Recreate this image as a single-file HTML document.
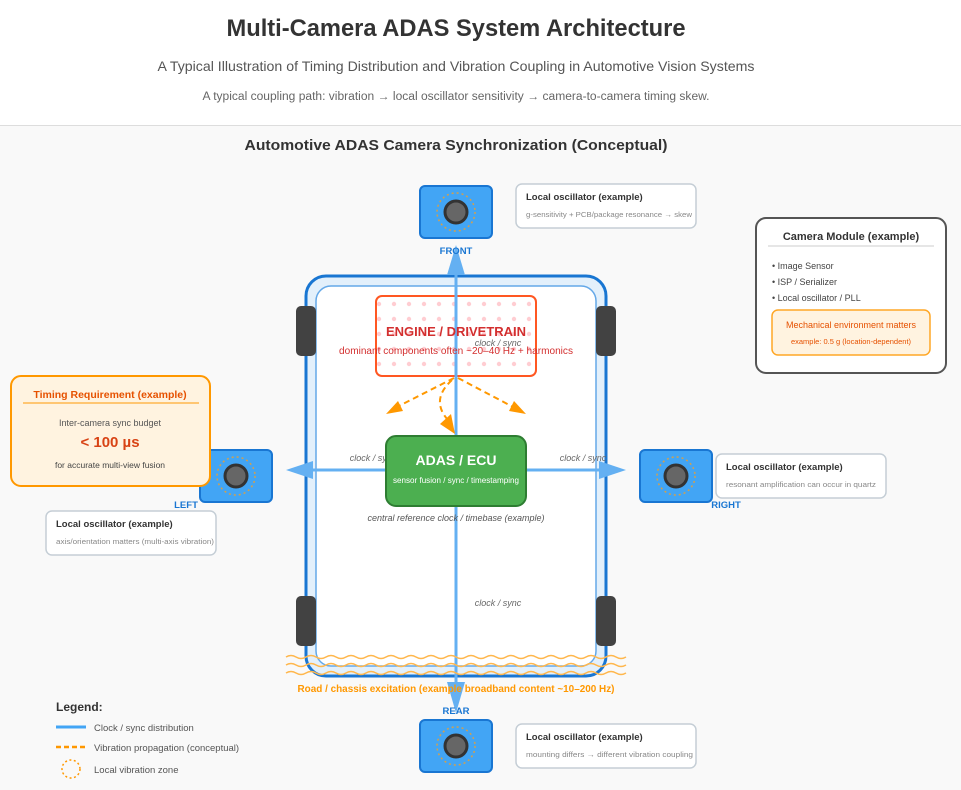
<!DOCTYPE html>
<html><head><meta charset="utf-8"><style>
html,body{margin:0;padding:0;background:#fff;}
svg{display:block;font-family:"Liberation Sans",sans-serif;}
</style></head><body>
<svg width="961" height="790" viewBox="0 0 961 790" xmlns="http://www.w3.org/2000/svg">
<defs>
<pattern id="dots" width="15" height="15" patternUnits="userSpaceOnUse"><circle cx="4" cy="4" r="2.2" fill="#ffcdd2"/></pattern>
</defs>
<rect x="0" y="0" width="961" height="125" fill="#fff"/>
<rect x="0" y="125" width="961" height="665" fill="#f9f9f9"/>
<line x1="0" y1="125.5" x2="961" y2="125.5" stroke="#ddd"/>
<text x="456" y="36" text-anchor="middle" font-size="24" font-weight="bold" fill="#333" textLength="459" lengthAdjust="spacingAndGlyphs">Multi-Camera ADAS System Architecture</text>
<text x="456" y="71" text-anchor="middle" font-size="14" fill="#555" textLength="597" lengthAdjust="spacingAndGlyphs">A Typical Illustration of Timing Distribution and Vibration Coupling in Automotive Vision Systems</text>
<text x="456" y="100" text-anchor="middle" font-size="11.5" fill="#666" textLength="507" lengthAdjust="spacingAndGlyphs">A typical coupling path: vibration → local oscillator sensitivity → camera-to-camera timing skew.</text>
<text x="456" y="150" text-anchor="middle" font-size="15" font-weight="bold" fill="#333" textLength="423" lengthAdjust="spacingAndGlyphs">Automotive ADAS Camera Synchronization (Conceptual)</text>

<rect x="306" y="276" width="300" height="400" rx="20" fill="#e3f0fb" stroke="#1976d2" stroke-width="3"/>
<rect x="316" y="286" width="280" height="380" rx="15" fill="#fff" stroke="#64a8e8" stroke-width="1.5"/>
<rect x="296" y="306" width="20" height="50" rx="5" fill="#424242"/>
<rect x="596" y="306" width="20" height="50" rx="5" fill="#424242"/>
<rect x="296" y="596" width="20" height="50" rx="5" fill="#424242"/>
<rect x="596" y="596" width="20" height="50" rx="5" fill="#424242"/>

<rect x="376" y="296" width="160" height="80" rx="6" fill="#fff"/>
<rect x="376" y="296" width="160" height="80" rx="6" fill="url(#dots)" stroke="#ff5722" stroke-width="2"/>

<line x1="456" y1="270" x2="456" y2="690" stroke="#64b0f2" stroke-width="3"/>
<polygon points="456,245 447,275 465,275" fill="#64b0f2"/>
<polygon points="456,713 447,682 465,682" fill="#64b0f2"/>
<line x1="300" y1="470" x2="612" y2="470" stroke="#64b0f2" stroke-width="3"/>
<polygon points="286,470 313,461 313,479" fill="#64b0f2"/>
<polygon points="626,470 599,461 599,479" fill="#64b0f2"/>

<text x="456" y="336" text-anchor="middle" font-size="13" font-weight="bold" fill="#d32f2f">ENGINE / DRIVETRAIN</text>
<text x="456" y="354" text-anchor="middle" font-size="10" fill="#d32f2f" textLength="234" lengthAdjust="spacingAndGlyphs">dominant components often ~20–40 Hz + harmonics</text>
<g font-size="9" font-style="italic" fill="#666">
<text x="498" y="346" text-anchor="middle">clock / sync</text>
<text x="373" y="461" text-anchor="middle">clock / sync</text>
<text x="583" y="461" text-anchor="middle">clock / sync</text>
<text x="498" y="606" text-anchor="middle">clock / sync</text>
</g>

<g stroke="#ff9800" stroke-width="2" stroke-dasharray="6,4" fill="none">
<path d="M454,378 L395,408"/>
<path d="M458,378 L515,408"/>
<path d="M452,380 Q430,400 448,420"/>
</g>
<polygon points="386,414 398,401 403,411" fill="#ff9800"/>
<polygon points="526,414 509,411 514,401" fill="#ff9800"/>
<polygon points="455,434 440,424 451,414" fill="#ff9800"/>

<rect x="386" y="436" width="140" height="70" rx="10" fill="#4caf50" stroke="#2e7d32" stroke-width="2"/>
<text x="456" y="465" text-anchor="middle" font-size="14" font-weight="bold" fill="#fff">ADAS / ECU</text>
<text x="456" y="483" text-anchor="middle" font-size="8.5" fill="#fff" textLength="126" lengthAdjust="spacingAndGlyphs">sensor fusion / sync / timestamping</text>
<text x="456" y="521" text-anchor="middle" font-size="9" font-style="italic" fill="#555">central reference clock / timebase (example)</text>

<g stroke="#ffb74d" stroke-width="1.5" fill="none">
<path d="M286,657 q5,-3 10,0 t10,0 t10,0 t10,0 t10,0 t10,0 t10,0 t10,0 t10,0 t10,0 t10,0 t10,0 t10,0 t10,0 t10,0 t10,0 t10,0 t10,0 t10,0 t10,0 t10,0 t10,0 t10,0 t10,0 t10,0 t10,0 t10,0 t10,0 t10,0 t10,0 t10,0 t10,0 t10,0 t10,0"/>
<path d="M286,665 q5,-3 10,0 t10,0 t10,0 t10,0 t10,0 t10,0 t10,0 t10,0 t10,0 t10,0 t10,0 t10,0 t10,0 t10,0 t10,0 t10,0 t10,0 t10,0 t10,0 t10,0 t10,0 t10,0 t10,0 t10,0 t10,0 t10,0 t10,0 t10,0 t10,0 t10,0 t10,0 t10,0 t10,0 t10,0"/>
<path d="M286,673 q5,-3 10,0 t10,0 t10,0 t10,0 t10,0 t10,0 t10,0 t10,0 t10,0 t10,0 t10,0 t10,0 t10,0 t10,0 t10,0 t10,0 t10,0 t10,0 t10,0 t10,0 t10,0 t10,0 t10,0 t10,0 t10,0 t10,0 t10,0 t10,0 t10,0 t10,0 t10,0 t10,0 t10,0 t10,0"/>
</g>
<text x="456" y="692" text-anchor="middle" font-size="10" font-weight="bold" fill="#ff9800" textLength="317" lengthAdjust="spacingAndGlyphs">Road / chassis excitation (example broadband content ~10–200 Hz)</text>

<g>
<rect x="420" y="186" width="72" height="52" rx="5" fill="#42a5f5" stroke="#1976d2" stroke-width="2"/>
<circle cx="456" cy="212" r="19" fill="none" stroke="#d4a04c" stroke-width="1.5" stroke-dasharray="2,3"/>
<circle cx="456" cy="212" r="11" fill="#666" stroke="#333" stroke-width="3"/>
<rect x="200" y="450" width="72" height="52" rx="5" fill="#42a5f5" stroke="#1976d2" stroke-width="2"/>
<circle cx="236" cy="476" r="19" fill="none" stroke="#d4a04c" stroke-width="1.5" stroke-dasharray="2,3"/>
<circle cx="236" cy="476" r="11" fill="#666" stroke="#333" stroke-width="3"/>
<rect x="640" y="450" width="72" height="52" rx="5" fill="#42a5f5" stroke="#1976d2" stroke-width="2"/>
<circle cx="676" cy="476" r="19" fill="none" stroke="#d4a04c" stroke-width="1.5" stroke-dasharray="2,3"/>
<circle cx="676" cy="476" r="11" fill="#666" stroke="#333" stroke-width="3"/>
<rect x="420" y="720" width="72" height="52" rx="5" fill="#42a5f5" stroke="#1976d2" stroke-width="2"/>
<circle cx="456" cy="746" r="19" fill="none" stroke="#d4a04c" stroke-width="1.5" stroke-dasharray="2,3"/>
<circle cx="456" cy="746" r="11" fill="#666" stroke="#333" stroke-width="3"/>
</g>
<g font-size="9.5" font-weight="bold" fill="#1976d2" text-anchor="middle">
<text x="456" y="254">FRONT</text>
<text x="186" y="508">LEFT</text>
<text x="726" y="508">RIGHT</text>
<text x="456" y="714">REAR</text>
</g>

<g>
<rect x="516" y="184" width="180" height="44" rx="6" fill="#fff" stroke="#c5ced6" stroke-width="1.5"/>
<text x="526" y="200" font-size="9.5" font-weight="bold" fill="#333">Local oscillator (example)</text>
<text x="526" y="217" font-size="7.5" fill="#888" textLength="166" lengthAdjust="spacingAndGlyphs">g-sensitivity + PCB/package resonance → skew</text>
<rect x="46" y="511" width="170" height="44" rx="6" fill="#fff" stroke="#c5ced6" stroke-width="1.5"/>
<text x="56" y="527" font-size="9.5" font-weight="bold" fill="#333">Local oscillator (example)</text>
<text x="56" y="544" font-size="7.5" fill="#888" textLength="158" lengthAdjust="spacingAndGlyphs">axis/orientation matters (multi-axis vibration)</text>
<rect x="716" y="454" width="170" height="44" rx="6" fill="#fff" stroke="#c5ced6" stroke-width="1.5"/>
<text x="726" y="470" font-size="9.5" font-weight="bold" fill="#333">Local oscillator (example)</text>
<text x="726" y="487" font-size="7.5" fill="#888" textLength="150" lengthAdjust="spacingAndGlyphs">resonant amplification can occur in quartz</text>
<rect x="516" y="724" width="180" height="44" rx="6" fill="#fff" stroke="#c5ced6" stroke-width="1.5"/>
<text x="526" y="740" font-size="9.5" font-weight="bold" fill="#333">Local oscillator (example)</text>
<text x="526" y="757" font-size="7.5" fill="#888" textLength="167" lengthAdjust="spacingAndGlyphs">mounting differs → different vibration coupling</text>
</g>

<rect x="756" y="218" width="190" height="155" rx="10" fill="#fff" stroke="#555" stroke-width="2"/>
<text x="851" y="240" text-anchor="middle" font-size="11" font-weight="bold" fill="#333">Camera Module (example)</text>
<line x1="768" y1="246" x2="934" y2="246" stroke="#ddd" stroke-width="1.5"/>
<g font-size="9" fill="#444">
<text x="772" y="269">• Image Sensor</text>
<text x="772" y="285">• ISP / Serializer</text>
<text x="772" y="301">• Local oscillator / PLL</text>
</g>
<rect x="772" y="310" width="158" height="45" rx="6" fill="#fff3e0" stroke="#ffa726" stroke-width="1.5"/>
<text x="851" y="328" text-anchor="middle" font-size="9" fill="#e65100">Mechanical environment matters</text>
<text x="851" y="344" text-anchor="middle" font-size="7.5" fill="#e65100">example: 0.5 g (location-dependent)</text>

<rect x="11" y="376" width="199" height="110" rx="10" fill="#fff3e0" stroke="#ff9800" stroke-width="2"/>
<text x="110" y="398" text-anchor="middle" font-size="10.5" font-weight="bold" fill="#e65100">Timing Requirement (example)</text>
<line x1="23" y1="403" x2="199" y2="403" stroke="#ffb74d" stroke-width="1.5"/>
<text x="110" y="426" text-anchor="middle" font-size="9" fill="#555">Inter-camera sync budget</text>
<text x="110" y="447" text-anchor="middle" font-size="15" font-weight="bold" fill="#d84315">&lt; 100 µs</text>
<text x="110" y="468" text-anchor="middle" font-size="8.5" fill="#444">for accurate multi-view fusion</text>

<text x="56" y="711" font-size="12" font-weight="bold" fill="#333">Legend:</text>
<line x1="56" y1="727" x2="86" y2="727" stroke="#42a5f5" stroke-width="3"/>
<text x="94" y="731" font-size="9.5" fill="#555">Clock / sync distribution</text>
<line x1="56" y1="747" x2="86" y2="747" stroke="#ff9800" stroke-width="2.5" stroke-dasharray="5,3"/>
<text x="94" y="751" font-size="9.5" fill="#555">Vibration propagation (conceptual)</text>
<circle cx="71" cy="769" r="9" fill="none" stroke="#ff9800" stroke-width="1.5" stroke-dasharray="2,2.5"/>
<text x="94" y="773" font-size="9.5" fill="#555">Local vibration zone</text>
</svg>
</body></html>
